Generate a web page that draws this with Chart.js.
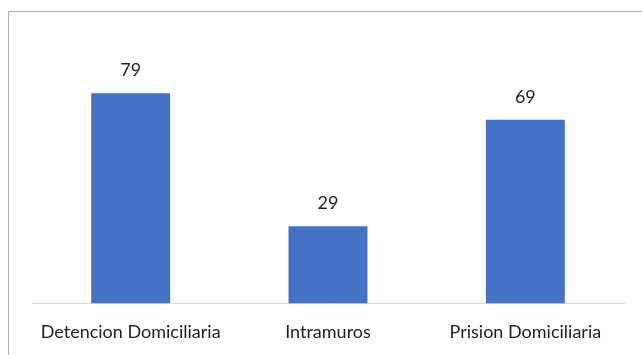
<!DOCTYPE html>
<html>
<head>
<meta charset="utf-8">
<script src="https://cdn.jsdelivr.net/npm/chart.js@4"></script>
<style>
  html, body { margin: 0; padding: 0; background: #ffffff; }
  #wrap { position: relative; width: 642px; height: 355px; overflow: hidden; }
  #frame { position: absolute; left: 8px; top: 11px; width: 660px; height: 360px;
           border: 1px solid #b0b0b0; box-sizing: border-box; }
  canvas { position: absolute; left: 0; top: 0; }
</style>
</head>
<body>
<div id="wrap">
  <div id="frame"></div>
  <canvas id="c" width="642" height="355"></canvas>
</div>
<script>
const categories = ['Detencion Domiciliaria', 'Intramuros', 'Prision Domiciliaria'];
const counts = [79, 29, 69];

// Writes each bar's value just above its top edge
const valueLabels = {
  id: 'valueLabels',
  afterDatasetsDraw(chart) {
    const ctx = chart.ctx;
    const meta = chart.getDatasetMeta(0);
    ctx.save();
    ctx.font = '18px Lato, "Open Sans", sans-serif';
    ctx.fillStyle = '#1f1f1f';
    ctx.textAlign = 'center';
    ctx.textBaseline = 'alphabetic';
    meta.data.forEach((bar, i) => {
      ctx.fillText(String(chart.data.datasets[0].data[i]), bar.x, bar.y - 17);
    });
    ctx.restore();
  }
};

new Chart(document.getElementById('c'), {
  type: 'bar',
  data: {
    labels: categories,
    datasets: [{
      data: counts,
      backgroundColor: '#4472C4',
      borderWidth: 0,
      categoryPercentage: 1,
      barPercentage: 0.4
    }]
  },
  options: {
    responsive: false,
    animation: false,
    layout: { padding: { left: 32, right: 18, top: 64, bottom: -6 } },
    plugins: { legend: { display: false }, tooltip: { enabled: false } },
    scales: {
      x: {
        grid: { display: false, drawTicks: false },
        border: { display: true, color: '#d9d9d9', width: 1 },
        ticks: {
          padding: 18,
          color: '#1f1f1f',
          font: { family: 'Lato, "Open Sans", sans-serif', size: 18 },
          maxRotation: 0
        }
      },
      y: {
        display: false,
        min: 0,
        max: 90
      }
    }
  },
  plugins: [valueLabels]
});
</script>
</body>
</html>
